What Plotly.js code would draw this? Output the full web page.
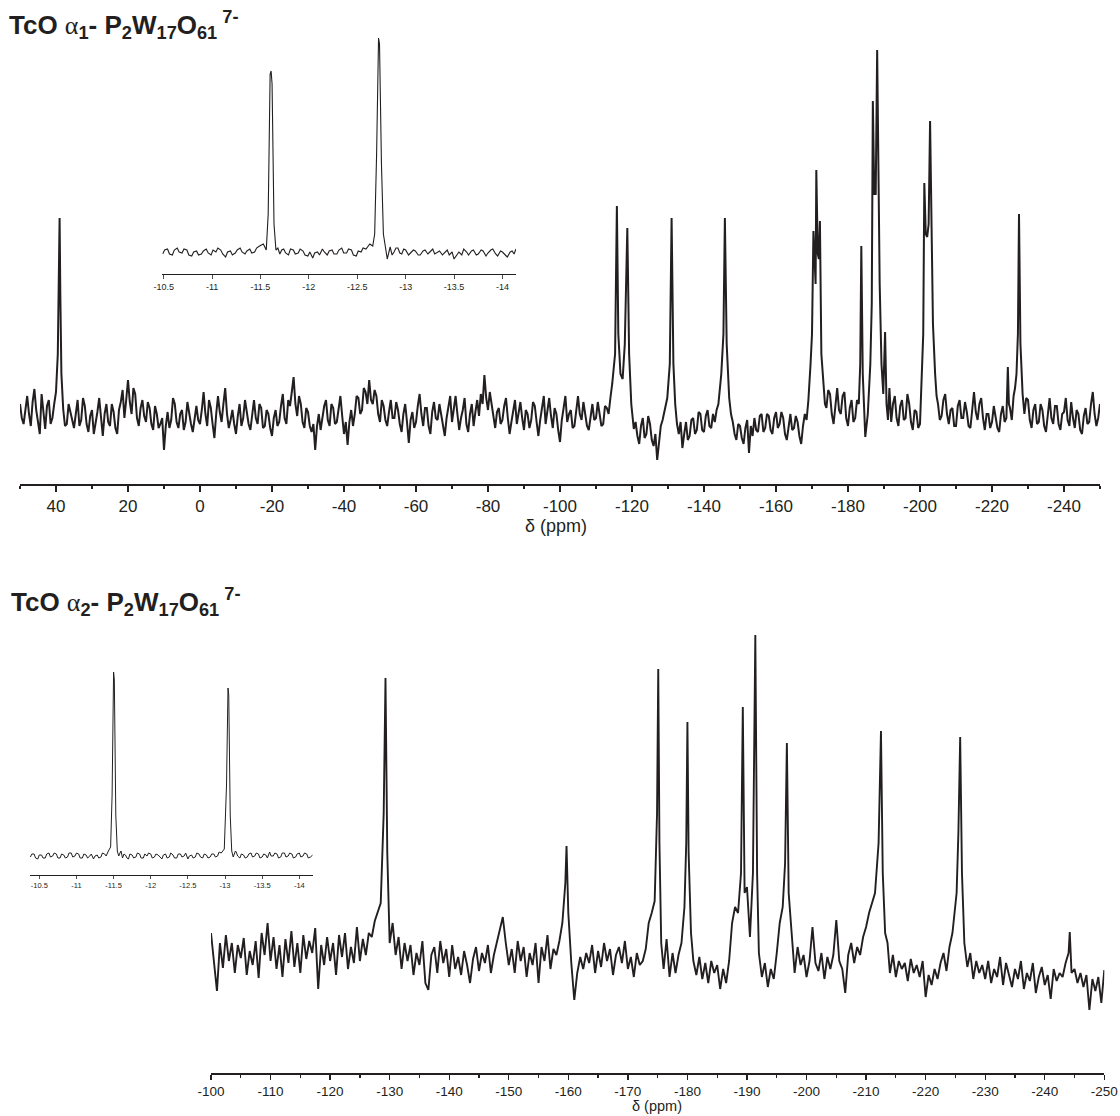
<!DOCTYPE html>
<html>
<head>
<meta charset="utf-8">
<script src="https://cdn.plot.ly/plotly-3.0.1.min.js"></script>
<style>html,body{margin:0;padding:0;background:#fff;}#chart{width:1120px;height:1116px;}</style>
</head>
<body>
<div id="chart"></div>
<script>
// ---------- DATA (ppm, intensity) ----------
// Top main spectrum: TcO α1-P2W17O61 7-
const topSpectrum = [
[50,80],[49.5,66],[49,60],[48.5,76],[48,88],[47.5,70],[47,58],[46.5,82],[46,95],[45.5,74],[45,62],[44.5,50],[44,90],[43.5,72],[43,55],[42.5,78],[42,84],[41.5,60],[41,66],[40.5,80],[40,92],
[39.5,130],[39.2,200],[39.0,266],[38.8,190],[38.5,110],[38,75],[37.5,58],[37,60],[36.5,80],[36,72],[35.5,62],[35,56],[34.5,70],[34,84],[33.5,58],[33,64],[32.5,86],[32,78],[31.5,60],[31,52],
[30.5,68],[30,74],[29.5,50],[29,60],[28.5,72],[28,86],[27.5,64],[27,48],[26.5,70],[26,80],[25.5,62],[25,58],[24.5,80],[24,72],[23.5,56],[23,50],[22.5,74],[22,82],[21.5,94],[21,66],
[20.5,84],[20,104],[19.5,82],[19,70],[18.5,96],[18,90],[17.5,66],[17,58],[16.5,76],[16,84],[15.5,68],[15,62],[14.5,82],[14,76],[13.5,60],[13,54],[12.5,78],[12,70],[11.5,56],[11,60],
[10.5,66],[10,34],[9.5,58],[9,72],[8.5,56],[8,64],[7.5,86],[7,80],[6.5,62],[6,56],[5.5,70],[5,74],[4.5,54],[4,62],[3.5,82],[3,70],[2.5,60],[2,52],[1.5,68],[1,78],[0.5,64],[0,60],
[-0.5,74],[-1,92],[-1.5,70],[-2,58],[-2.5,84],[-3,76],[-3.5,60],[-4,46],[-4.5,70],[-5,88],[-5.5,72],[-6,62],[-6.5,80],[-7,96],[-7.5,70],[-8,56],[-8.5,64],[-9,74],[-9.5,60],[-10,50],
[-10.5,68],[-11,80],[-11.5,58],[-12,66],[-12.5,84],[-13,72],[-13.5,60],[-14,54],[-14.5,70],[-15,84],[-15.5,66],[-16,60],[-16.5,80],[-17,76],[-17.5,56],[-18,58],[-18.5,74],[-19,70],[-19.5,56],[-20,48],
[-20.5,66],[-21,74],[-21.5,58],[-22,62],[-22.5,78],[-23,90],[-23.5,66],[-24,60],[-24.5,84],[-25,78],[-25.5,92],[-26,107],[-26.5,80],[-27,68],[-27.5,88],[-28,80],[-28.5,62],[-29,56],[-29.5,76],[-30,72],
[-30.5,58],[-31,52],[-31.5,60],[-32,34],[-32.5,58],[-33,70],[-33.5,54],[-34,66],[-34.5,78],[-35,84],[-35.5,64],[-36,58],[-36.5,80],[-37,76],[-37.5,60],[-38,62],[-38.5,76],[-39,88],[-39.5,68],[-40,50],
[-40.5,62],[-41,39],[-41.5,62],[-42,74],[-42.5,58],[-43,70],[-43.5,88],[-44,86],[-44.5,70],[-45,74],[-45.5,96],[-46,92],[-46.5,80],[-47,104],[-47.5,84],[-48,80],[-48.5,94],[-49,88],[-49.5,70],[-50,62],
[-50.5,84],[-51,78],[-51.5,64],[-52,58],[-52.5,72],[-53,84],[-53.5,66],[-54,66],[-54.5,82],[-55,74],[-55.5,60],[-56,52],[-56.5,70],[-57,80],[-57.5,62],[-58,41],[-58.5,64],[-59,72],[-59.5,56],[-60,62],
[-60.5,78],[-61,90],[-61.5,70],[-62,58],[-62.5,76],[-63,76],[-63.5,58],[-64,50],[-64.5,72],[-65,82],[-65.5,66],[-66,64],[-66.5,80],[-67,70],[-67.5,56],[-68,48],[-68.5,66],[-69,78],[-69.5,88],[-70,62],
[-70.5,74],[-71,88],[-71.5,70],[-72,54],[-72.5,66],[-73,74],[-73.5,86],[-74,60],[-74.5,52],[-75,70],[-75.5,80],[-76,58],[-76.5,72],[-77,84],[-77.5,68],[-78,90],[-78.5,80],[-79,109],[-79.5,86],[-80,74],
[-80.5,92],[-81,80],[-81.5,64],[-82,56],[-82.5,72],[-83,76],[-83.5,60],[-84,64],[-84.5,78],[-85,86],[-85.5,66],[-86,50],[-86.5,62],[-87,72],[-87.5,84],[-88,60],[-88.5,70],[-89,82],[-89.5,66],[-90,54],
[-90.5,74],[-91,70],[-91.5,56],[-92,64],[-92.5,82],[-93,78],[-93.5,62],[-94,48],[-94.5,64],[-95,74],[-95.5,88],[-96,60],[-96.5,72],[-97,86],[-97.5,68],[-98,56],[-98.5,76],[-99,70],[-99.5,54],[-100,42],
[-100.5,64],[-101,78],[-101.5,88],[-102,62],[-102.5,70],[-103,74],[-103.5,56],[-104,58],[-104.5,76],[-105,88],[-105.5,70],[-106,64],[-106.5,82],[-107,72],[-107.5,58],[-108,54],[-108.5,70],[-109,80],
[-109.5,64],[-110,66],[-110.5,82],[-111,70],[-111.5,58],[-112,60],[-112.5,78],[-113,76],[-113.5,70],[-114,86],
[-114.5,100],[-115.3,130],[-115.8,278],[-116.2,150],[-116.8,110],[-117.4,105],[-118.0,140],[-118.7,256],[-119.2,130],[-119.8,80],[-120.5,55],
[-121,62],[-121.5,48],[-122,40],[-122.5,58],[-123,66],[-123.5,46],[-124,50],[-124.5,68],[-125,60],[-125.5,44],[-126,38],[-126.5,50],[-127,24],[-127.5,40],[-128,58],[-128.5,64],[-129,72],[-129.5,80],
[-129.8,86],[-130.5,120],[-131,266],[-131.5,120],[-132,80],[-132.5,60],[-133,50],[-133.5,62],[-134,36],[-134.5,50],[-135,62],[-135.5,44],[-136,48],[-136.5,64],[-137,66],[-137.5,50],[-138,54],
[-138.5,72],[-139,70],[-139.5,54],[-140,52],[-140.5,68],[-141,74],[-141.5,58],[-142,56],[-142.5,70],[-143,62],[-143.5,74],[-144,80],[-144.8,110],[-145.4,150],[-145.8,266],[-146.3,140],
[-147,86],[-147.5,70],[-148,62],[-148.5,50],[-149,44],[-149.5,60],[-150,58],[-150.5,46],[-151,40],[-151.5,56],[-152,64],[-152.5,31],[-153,58],[-153.5,48],[-154,66],[-154.5,54],[-155,52],
[-155.5,68],[-156,70],[-156.5,52],[-157,56],[-157.5,70],[-158,68],[-158.5,54],[-159,50],[-159.5,66],[-160,72],[-160.5,56],[-161,60],[-161.5,72],[-162,66],[-162.5,50],[-163,44],[-163.5,60],
[-164,70],[-164.5,54],[-165,56],[-165.5,68],[-166,62],[-166.5,48],[-167,40],[-167.5,58],[-168,70],[-168.5,64],[-169,84],
[-169.6,120],[-170.0,150],[-170.4,253],[-170.7,220],[-171.0,200],[-171.2,314],[-171.6,230],[-171.9,225],[-172.2,263],[-172.6,130],[-173.2,100],
[-173.6,80],[-174,76],[-174.5,94],[-175,90],[-175.5,70],[-176,60],[-176.5,82],[-177,96],[-177.5,74],[-178,70],[-178.5,88],[-179,92],[-179.5,66],[-180,58],[-180.5,76],[-181,84],[-181.5,62],
[-182,66],[-182.5,84],[-183,80],[-183.4,120],[-183.7,238],[-184.1,110],[-184.8,47],[-185.5,70],
[-186.2,120],[-186.6,180],[-186.9,383],[-187.3,290],[-187.7,290],[-188.1,434],[-188.4,346],[-188.8,200],[-189.3,120],[-189.8,90],[-190.3,152],[-190.7,80],
[-191.1,64],[-191.5,96],[-192,62],[-192.5,80],[-193,88],[-193.5,66],[-194,58],[-194.5,78],[-195,84],[-195.5,64],[-196,66],[-196.5,90],[-197,80],[-197.5,62],[-198,54],[-198.5,74],[-199,72],
[-199.5,56],[-200,60],[-200.5,110],[-200.9,150],[-201.2,301],[-201.6,250],[-202.0,247],[-202.4,260],[-202.8,363],[-203.2,250],[-203.6,160],[-204.2,110],
[-204.6,88],[-205,80],[-205.5,64],[-206,68],[-206.5,84],[-207,90],[-207.5,70],[-208,60],[-208.5,74],[-209,76],[-209.5,58],[-210,58],[-210.5,78],[-211,84],[-211.5,66],[-212,66],[-212.5,82],
[-213,72],[-213.5,58],[-214,56],[-214.5,76],[-215,92],[-215.5,72],[-216,64],[-216.5,80],[-217,86],[-217.5,66],[-218,54],[-218.5,70],[-219,70],[-219.5,56],[-220,62],[-220.5,78],[-221,68],
[-221.5,56],[-222,52],[-222.5,70],[-223,78],[-223.5,62],[-224,66],[-224.4,117],[-224.7,80],[-225,76],[-225.5,64],[-226,88],[-226.4,96],[-226.8,110],[-227.2,150],[-227.5,270],[-227.9,140],
[-228.5,90],[-229,70],[-229.5,86],[-230,84],[-230.5,64],[-231,56],[-231.5,74],[-232,80],[-232.5,60],[-233,62],[-233.5,80],[-234,74],[-234.5,58],[-235,52],[-235.5,70],[-236,86],[-236.5,66],
[-237,60],[-237.5,78],[-238,78],[-238.5,60],[-239,54],[-239.5,70],[-240,72],[-240.5,86],[-241,64],[-241.5,58],[-242,82],[-242.5,66],[-243,56],[-243.5,74],[-244,70],[-244.5,54],[-245,50],
[-245.5,68],[-246,76],[-246.5,60],[-247,62],[-247.5,80],[-248,92],[-248.5,70],[-249,58],[-249.5,66],[-250,80]
];

// Top inset spectrum (-10.5 .. -14 ppm)
const topInsetSpectrum = [
[-10.49,20],[-10.51,24],[-10.54,25],[-10.56,20],[-10.59,19],[-10.61,24],[-10.64,26],[-10.66,22],[-10.69,21],[-10.71,25],[-10.74,24],[-10.76,19],[-10.79,18],[-10.81,22],[-10.84,23],[-10.86,19],
[-10.89,20],[-10.91,23],[-10.94,25],[-10.96,21],[-10.99,19],[-11.01,24],[-11.04,22],[-11.06,26],[-11.09,24],[-11.11,20],[-11.14,17],[-11.16,22],[-11.19,23],[-11.21,19],[-11.24,21],[-11.26,24],
[-11.29,26],[-11.31,22],[-11.34,20],[-11.36,23],[-11.39,25],[-11.41,21],[-11.44,22],[-11.46,26],[-11.49,28],
[-11.53,30],[-11.56,24],[-11.58,60],[-11.60,200],[-11.61,203],[-11.62,190],[-11.64,50],[-11.66,24],
[-11.68,26],[-11.70,20],[-11.72,24],[-11.74,25],[-11.76,21],[-11.79,19],[-11.81,25],[-11.84,24],[-11.86,20],[-11.89,21],[-11.91,25],[-11.94,23],[-11.96,19],[-11.99,18],[-12.01,22],[-12.04,16],
[-12.06,21],[-12.09,22],[-12.11,19],[-12.14,25],[-12.16,22],[-12.19,19],[-12.21,23],[-12.24,24],[-12.26,20],[-12.29,20],[-12.31,24],[-12.34,26],[-12.36,21],[-12.39,21],[-12.41,25],[-12.44,24],
[-12.46,19],[-12.49,18],[-12.51,23],[-12.54,22],[-12.56,26],[-12.59,25],
[-12.63,30],[-12.66,28],[-12.68,40],[-12.70,120],[-12.72,236],[-12.73,230],[-12.75,110],[-12.77,40],[-12.79,28],[-12.81,15],[-12.84,27],
[-12.86,19],[-12.88,22],[-12.90,26],[-12.92,26],[-12.94,21],[-12.96,20],[-12.98,25],[-13.00,24],[-13.03,19],[-13.05,21],[-13.08,24],[-13.10,23],[-13.13,19],[-13.15,19],[-13.18,23],[-13.20,24],
[-13.23,20],[-13.25,22],[-13.28,25],[-13.30,20],[-13.33,22],[-13.35,23],[-13.38,19],[-13.40,21],[-13.43,24],[-13.45,19],[-13.48,22],[-13.50,15],[-13.53,20],[-13.55,22],[-13.58,19],[-13.60,25],
[-13.63,22],[-13.65,19],[-13.68,23],[-13.70,24],[-13.73,19],[-13.75,20],[-13.78,24],[-13.80,23],[-13.83,18],[-13.85,21],[-13.88,24],[-13.90,25],[-13.93,20],[-13.95,18],[-13.98,23],[-14.00,22],
[-14.03,19],[-14.05,17],[-14.08,22],[-14.10,23],[-14.12,20],[-14.14,25]
];

// Bottom main spectrum: TcO α2-P2W17O61 7-
const bottomSpectrum = [
[-100.0,140],[-100.5,110],[-101.0,82],[-101.5,130],[-102,105],[-102.5,138],[-103,112],[-103.5,130],[-104,100],[-104.5,128],[-105,115],[-105.5,135],[-106,98],[-106.5,122],[-107,108],[-107.5,132],
[-108,95],[-108.5,140],[-109,118],[-109.5,150],[-110,112],[-110.5,136],[-111,104],[-111.5,128],[-112,96],[-112.5,134],[-113,110],[-113.5,142],[-114,106],[-114.5,130],[-115,100],[-115.5,138],
[-116,114],[-116.5,132],[-117,120],[-117.5,145],[-118,84],[-118.5,128],[-119,108],[-119.5,136],[-120,112],[-120.5,130],[-121,98],[-121.5,138],[-122,116],[-122.5,140],[-123,104],[-123.5,126],
[-124,110],[-124.5,146],[-125,112],[-125.5,134],[-126,118],[-126.5,140],[-127,136],[-127.5,152],[-128,160],[-128.5,170],[-129.0,260],[-129.3,395],[-129.6,220],[-130,130],[-130.5,150],
[-131,118],[-131.5,136],[-132,104],[-132.5,130],[-133,112],[-133.5,128],[-134,98],[-134.5,120],[-135,108],[-135.5,132],[-136,90],[-136.5,83],[-137,118],[-137.5,126],[-138,100],[-138.5,132],
[-139,110],[-139.5,124],[-140,96],[-140.5,128],[-141,104],[-141.5,116],[-142,98],[-142.5,122],[-143,108],[-143.5,90],[-144,114],[-144.5,126],[-145,102],[-145.5,120],[-146,110],[-146.5,128],
[-147,100],[-147.5,118],[-148,130],[-148.5,142],[-149,156],[-149.5,130],[-150,108],[-150.5,124],[-151,100],[-151.5,132],[-152,112],[-152.5,126],[-153,96],[-153.5,120],[-154,108],[-154.5,130],
[-155,90],[-155.5,126],[-156,112],[-156.5,138],[-157,104],[-157.5,124],[-158,118],[-158.5,132],[-159,150],[-159.5,190],[-159.7,227],[-160.0,160],[-160.5,110],[-161.0,73],[-161.5,100],
[-162,116],[-162.5,104],[-163,120],[-163.5,110],[-164,128],[-164.5,100],[-165,122],[-165.5,106],[-166,130],[-166.5,112],[-167,124],[-167.5,98],[-168,118],[-168.5,126],[-169,110],[-169.5,132],
[-170,104],[-170.5,116],[-171,96],[-171.5,120],[-172,108],[-172.5,112],[-173,124],[-173.5,150],[-174,160],[-174.5,172],[-174.9,260],[-175.1,404],[-175.3,230],[-175.6,130],
[-176,104],[-176.5,134],[-177,96],[-177.5,120],[-178,100],[-178.5,118],[-179,130],[-179.5,166],[-179.8,230],[-180.0,351],[-180.2,220],[-180.6,140],
[-181,112],[-181.5,98],[-182,116],[-182.5,94],[-183,110],[-183.5,90],[-184,112],[-184.5,100],[-185,108],[-185.5,84],[-186,104],[-186.5,90],[-187,112],[-187.5,150],[-188,166],[-188.5,160],
[-189,200],[-189.3,366],[-189.6,180],[-190,186],[-190.5,136],[-191,200],[-191.4,438],[-191.7,200],[-192,120],[-192.5,96],[-193,110],[-193.5,86],[-194,104],[-194.5,94],[-195,120],
[-195.5,150],[-196,166],[-196.4,210],[-196.7,330],[-197,180],[-197.5,140],[-198,100],[-198.5,126],[-199,108],[-199.5,118],[-200,96],[-200.5,112],[-201,146],[-201.5,110],[-202,102],
[-202.5,120],[-203,94],[-203.5,116],[-204,104],[-204.5,118],[-205,153],[-205.5,112],[-206,104],[-206.5,80],[-207,118],[-207.5,130],[-208,110],[-208.5,126],[-209,118],[-209.5,136],
[-210,146],[-210.5,160],[-211,170],[-211.5,180],[-212.1,230],[-212.5,342],[-212.8,200],[-213.2,140],[-213.6,130],[-214,100],[-214.5,118],[-215,96],[-215.5,112],[-216,104],[-216.5,110],
[-217,92],[-217.5,114],[-218,100],[-218.5,108],[-219,96],[-219.5,112],[-220,76],[-220.5,98],[-221,88],[-221.5,104],[-222,94],[-222.5,110],[-223,120],[-223.5,102],[-224,126],[-224.5,140],
[-225.2,180],[-225.5,240],[-225.8,336],[-226.1,200],[-226.5,130],[-227,106],[-227.5,120],[-228,94],[-228.5,112],[-229,100],[-229.5,108],[-230,94],[-230.5,112],[-231,90],[-231.5,104],
[-232,96],[-232.5,116],[-233,88],[-233.5,110],[-234,98],[-234.5,86],[-235,104],[-235.5,94],[-236,112],[-236.5,84],[-237,100],[-237.5,92],[-238,110],[-238.5,80],[-239,96],[-239.5,106],
[-240,88],[-240.5,98],[-241,74],[-241.5,104],[-242,92],[-242.5,100],[-243,96],[-243.5,110],[-244.0,120],[-244.2,141],[-244.5,100],[-245,104],[-245.5,90],[-246,100],[-246.5,86],
[-247,98],[-247.5,63],[-248,94],[-248.5,82],[-249,96],[-249.5,70],[-250,103]
];

// Bottom inset spectrum
const bottomInsetSpectrum = [
[-10.38,18],[-10.40,21],[-10.43,21],[-10.45,17],[-10.48,16],[-10.50,20],[-10.53,20],[-10.55,17],[-10.58,17],[-10.60,21],[-10.63,22],[-10.65,18],[-10.68,19],[-10.70,22],[-10.73,21],[-10.75,17],
[-10.78,17],[-10.80,21],[-10.83,20],[-10.85,17],[-10.88,18],[-10.90,22],[-10.93,22],[-10.95,18],[-10.98,19],[-11.00,22],[-11.03,21],[-11.05,17],[-11.08,17],[-11.10,21],[-11.13,20],[-11.15,17],
[-11.18,19],[-11.20,21],[-11.23,16],[-11.25,19],[-11.28,20],[-11.30,17],[-11.33,18],[-11.35,22],[-11.38,21],[-11.40,19],[-11.43,24],[-11.46,28],
[-11.48,80],[-11.50,203],[-11.51,195],[-11.53,60],[-11.55,24],[-11.57,19],[-11.58,21],[-11.60,24],[-11.62,17],[-11.64,21],[-11.66,20],[-11.68,17],[-11.70,16],[-11.72,21],[-11.75,20],[-11.77,17],
[-11.80,18],[-11.82,22],[-11.85,21],[-11.87,17],[-11.90,17],[-11.92,21],[-11.95,19],[-11.97,22],[-12.00,21],[-12.02,17],[-12.05,18],[-12.07,21],[-12.10,20],[-12.12,18],[-12.15,16],[-12.17,20],
[-12.20,21],[-12.22,17],[-12.25,18],[-12.27,22],[-12.30,20],[-12.32,17],[-12.35,17],[-12.37,21],[-12.40,21],[-12.42,18],[-12.45,19],[-12.47,22],[-12.50,16],[-12.52,19],[-12.55,20],[-12.57,17],
[-12.60,18],[-12.62,22],[-12.65,21],[-12.67,18],[-12.70,17],[-12.72,21],[-12.75,20],[-12.77,17],[-12.80,18],[-12.82,21],[-12.85,21],[-12.87,18],[-12.90,19],[-12.92,23],[-12.95,22],[-12.99,26],
[-13.02,90],[-13.04,187],[-13.05,180],[-13.07,60],[-13.09,24],[-13.11,18],[-13.12,20],[-13.14,24],[-13.15,23],[-13.17,19],[-13.20,17],[-13.22,21],[-13.25,20],[-13.27,17],[-13.30,18],[-13.32,21],
[-13.35,22],[-13.37,18],[-13.40,19],[-13.42,22],[-13.45,21],[-13.47,17],[-13.50,18],[-13.52,21],[-13.55,20],[-13.57,17],[-13.60,23],[-13.62,19],[-13.65,19],[-13.67,22],[-13.70,21],[-13.72,17],
[-13.75,18],[-13.77,22],[-13.80,22],[-13.82,18],[-13.85,19],[-13.87,22],[-13.90,21],[-13.92,17],[-13.95,18],[-13.97,21],[-14.00,22],[-14.02,18],[-14.05,19],[-14.07,22],[-14.10,21],[-14.12,17],
[-14.15,18],[-14.18,20]
];

// Tick values
const topTickVals = [40,20,0,-20,-40,-60,-80,-100,-120,-140,-160,-180,-200,-220,-240];
const bottomTickVals = [-100,-110,-120,-130,-140,-150,-160,-170,-180,-190,-200,-210,-220,-230,-240,-250];
const insetTickVals = [-10.5,-11,-11.5,-12,-12.5,-13,-13.5,-14];
const axisTitle = 'δ (ppm)';
const topTitle = '<b>TcO </b><span style="font-family:\'Liberation Serif\';font-weight:normal">α</span><b><sub>1</sub>- P<sub>2</sub>W<sub>17</sub>O<sub>61</sub></b><b><sup> 7-</sup></b>';
const bottomTitle = '<b>TcO </b><span style="font-family:\'Liberation Serif\';font-weight:normal">α</span><b><sub>2</sub>- P<sub>2</sub>W<sub>17</sub>O<sub>61</sub></b><b><sup> 7-</sup></b>';

// ---------- DRAW ----------
const W = 1120, H = 1116;
const fx = p => p / W;
const fy = p => 1 - p / H;
const ink = '#231f20';
const col = (arr, i) => arr.map(r => r[i]);

function mkTrace(arr, xa, ya, w) {
  return {x: col(arr,0), y: col(arr,1), xaxis: xa, yaxis: ya, type: 'scatter', mode: 'lines',
          line: {color: ink, width: w}, hoverinfo: 'skip', showlegend: false};
}

const traces = [
  mkTrace(topSpectrum, 'x', 'y', 2.0),
  mkTrace(topInsetSpectrum, 'x2', 'y2', 1.1),
  mkTrace(bottomSpectrum, 'x3', 'y3', 1.9),
  mkTrace(bottomInsetSpectrum, 'x4', 'y4', 1.0)
];

function xAx(d0, d1, range, ya, tv, fsize, lw, tlen, minorD) {
  const a = {domain: [fx(d0), fx(d1)], range: range, anchor: ya, autorange: false,
    showgrid: false, zeroline: false, showline: true, linecolor: ink, linewidth: lw,
    ticks: 'outside', ticklen: tlen, tickwidth: lw*0.8, tickcolor: ink,
    tickmode: 'array', tickvals: tv, ticktext: tv.map(String),
    tickfont: {family: 'Liberation Sans, Arial, sans-serif', size: fsize, color: ink}};
  if (minorD) a.minor = {ticks: 'outside', ticklen: Math.round(tlen*0.55), tickwidth: lw*0.8, tickcolor: ink, dtick: minorD, tick0: 0, showgrid: false};
  return a;
}
function yAx(p0, p1, range, xa) {
  return {domain: [fy(p1), fy(p0)], range: range, anchor: xa, visible: false, fixedrange: true};
}

const layout = {
  width: W, height: H, margin: {l: 0, r: 0, t: 0, b: 0},
  paper_bgcolor: '#fff', plot_bgcolor: 'rgba(0,0,0,0)',
  font: {family: 'Liberation Sans, Arial, sans-serif', color: ink},
  xaxis: xAx(20, 1100, [50, -250], 'y', topTickVals, 17, 2, 6, 10),
  yaxis: yAx(30, 484, [0, 454], 'x'),
  xaxis2: xAx(162.3, 516, [-10.486, -14.14], 'y2', insetTickVals, 9, 1, 4, null),
  yaxis2: yAx(30, 274, [0, 244], 'x2'),
  xaxis3: xAx(211, 1104.3, [-100, -250], 'y3', bottomTickVals, 13.5, 1.6, 5, 5),
  yaxis3: yAx(620, 1073, [0, 453], 'x3'),
  xaxis4: xAx(30, 312.7, [-10.375, -14.18], 'y4', insetTickVals, 7.5, 1, 3, null),
  yaxis4: yAx(640, 875, [0, 235], 'x4'),
  annotations: [
    {text: topTitle, xref: 'paper', yref: 'paper', x: fx(7), y: fy(25), xanchor: 'left', yanchor: 'middle', showarrow: false,
     font: {family: 'Liberation Sans, Arial, sans-serif', size: 26, color: ink}},
    {text: bottomTitle, xref: 'paper', yref: 'paper', x: fx(9), y: fy(602), xanchor: 'left', yanchor: 'middle', showarrow: false,
     font: {family: 'Liberation Sans, Arial, sans-serif', size: 26, color: ink}},
    {text: axisTitle, xref: 'paper', yref: 'paper', x: fx(556), y: fy(526), xanchor: 'center', yanchor: 'middle', showarrow: false,
     font: {family: 'Liberation Sans, Arial, sans-serif', size: 18, color: ink}},
    {text: axisTitle, xref: 'paper', yref: 'paper', x: fx(657), y: fy(1106), xanchor: 'center', yanchor: 'middle', showarrow: false,
     font: {family: 'Liberation Sans, Arial, sans-serif', size: 14.5, color: ink}}
  ]
};

Plotly.newPlot('chart', traces, layout, {staticPlot: true, displayModeBar: false});
</script>
</body>
</html>
